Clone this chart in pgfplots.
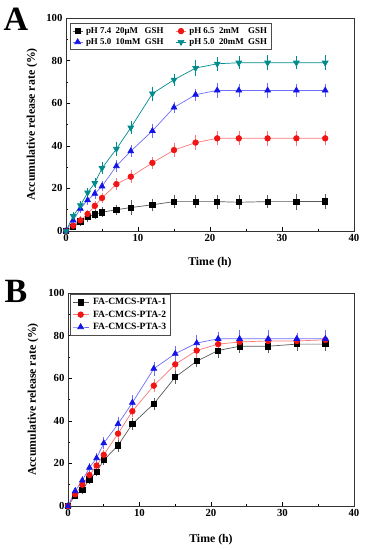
\documentclass[border=0pt]{standalone}
\usepackage{fontspec}
\setmainfont{Liberation Serif}
\usepackage{pgfplots}
\pgfplotsset{compat=1.18}
\definecolor{cteal}{RGB}{0,140,140}
\definecolor{cred}{RGB}{240,20,20}
\definecolor{cblue}{RGB}{20,20,230}
\definecolor{lred}{RGB}{250,120,120}
\definecolor{lblue}{RGB}{110,110,250}
\definecolor{lgray}{RGB}{90,90,90}
\begin{document}
\begin{tikzpicture}
\path[use as bounding box] (0pt,0pt) rectangle (365pt,550pt);
\pgfplotsset{myax/.style={scale only axis, height=213pt,
  xmin=0,xmax=40,ymin=0,ymax=100,
  xtick={0,10,...,40}, ytick={0,20,...,100},
  minor x tick num=1, minor y tick num=1,
  tick pos=left, tick align=inside,
  major tick length=4pt, minor tick length=2pt,
  axis line style={line width=0.7pt, black!80},
  tick style={line width=0.6pt, black},
  ticklabel style={font=\bfseries\fontsize{10.8}{12}\selectfont},
  /pgf/number format/assume math mode=true,
  label style={font=\bfseries\fontsize{11.8}{13}\selectfont},
  xlabel={Time (h)}, ylabel={Accumulative release rate (\%)},
  error bars/y dir=both, error bars/y explicit,
  error bars/error bar style={line width=0.5pt},
  error bars/error mark options={mark size=2pt, line width=0.5pt},
  every axis plot/.append style={line width=0.7pt},
  legend cell align=left,
}}
% ---------- Panel A ----------
\begin{axis}[myax, width=288pt, at={(66pt,319pt)}, anchor=south west,
  xlabel style={at={(axis description cs:0.5,-0.150)}, anchor=center},
  ylabel style={at={(axis description cs:-0.118,0.5)}, anchor=center},
  legend columns=2,
  legend style={at={(axis description cs:0.014,0.976)}, anchor=north west,
    draw=black!70, line width=0.6pt,
    font=\bfseries\fontsize{8.9}{10}\selectfont, inner sep=2pt,
    row sep=-0.5pt,
    /tikz/every odd column/.append style={column sep=1pt},
    /tikz/every even column/.append style={column sep=10pt}},
  legend image code/.code={\draw[mark repeat=2,mark phase=2] plot coordinates {(0pt,0pt) (5pt,0pt) (10pt,0pt)};},
]
\addplot[color=lgray, mark=square*, mark size=2.6pt, mark options={black, fill=black}]
 coordinates {(0,0) +- (0,0) (1,2) +- (0,0.8) (2,4.5) +- (0,1) (3,6.5) +- (0,1.2) (4,7.8) +- (0,1.3) (5,8.8) +- (0,1.5)
 (7,10) +- (0,1.5) (9,11) +- (0,2.5) (12,12.3) +- (0,2) (15,13.8) +- (0,2) (18,13.8) +- (0,2.2) (21,13.8) +- (0,2.3)
 (24,13.5) +- (0,2.3) (28,13.8) +- (0,2) (32,13.8) +- (0,2.8) (36,13.9) +- (0,2.5)};
\addlegendentry{pH 7.4\ \ 20μM\ \ \ GSH}
\addplot[color=lred, mark=*, mark size=2.8pt, mark options={cred, fill=cred}]
 coordinates {(0,0) +- (0,0) (1,2.5) +- (0,0.8) (2,5) +- (0,1) (3,8) +- (0,1) (4,11.8) +- (0,1.2) (5,15.5) +- (0,1.5)
 (7,22) +- (0,1.8) (9,25.5) +- (0,2) (12,32) +- (0,1.8) (15,38) +- (0,2.5) (18,41.5) +- (0,2.5) (21,43.5) +- (0,2.3)
 (24,43.5) +- (0,2.3) (28,43.5) +- (0,2.5) (32,43.5) +- (0,2.5) (36,43.5) +- (0,2.3)};
\addlegendentry{pH 6.5\ \ 2mM\ \ \ \ GSH}
\addplot[color=lblue, mark=triangle*, mark size=3.3pt, mark options={cblue, fill=cblue}]
 coordinates {(0,0) +- (0,0) (1,5) +- (0,1) (2,10.5) +- (0,1) (3,14.5) +- (0,1.2) (4,17.5) +- (0,1.5) (5,21) +- (0,1.5)
 (7,30.5) +- (0,1.8) (9,37.5) +- (0,1.8) (12,47) +- (0,2.2) (15,58) +- (0,1.8) (18,64) +- (0,1.8) (21,66) +- (0,2.5)
 (24,66) +- (0,2) (28,66) +- (0,2.5) (32,66) +- (0,2) (36,66) +- (0,2)};
\addlegendentry{pH 5.0\ \ 10mM\ \ GSH}
\addplot[color=cteal, mark=triangle*, mark size=3.3pt, mark options={cteal, fill=cteal, rotate=180}]
 coordinates {(0,0) +- (0,0) (1,7) +- (0,1) (2,12) +- (0,1.2) (3,18) +- (0,1.2) (4,22.5) +- (0,1.3) (5,29.5) +- (0,2)
 (7,38.5) +- (0,2.5) (9,48.5) +- (0,2) (12,64.5) +- (0,2.3) (15,71) +- (0,1.8) (18,76.5) +- (0,3) (21,78.5) +- (0,2.3)
 (24,79) +- (0,2) (28,79) +- (0,2.5) (32,79) +- (0,2) (36,79) +- (0,2.5)};
\addlegendentry{pH 5.0\ \ 20mM\ \ GSH}
\end{axis}
\node[font=\bfseries\fontsize{34}{36}\selectfont] at (16pt,531pt) {A};
% ---------- Panel B ----------
\begin{axis}[myax, width=286pt, at={(68pt,44pt)}, anchor=south west,
  xlabel style={at={(axis description cs:0.5,-0.160)}, anchor=center},
  ylabel style={at={(axis description cs:-0.122,0.5)}, anchor=center},
  legend style={at={(axis description cs:0.007,0.995)}, anchor=north west,
    draw=black!70, line width=0.6pt,
    font=\bfseries\fontsize{9.6}{11}\selectfont, inner sep=2pt, row sep=0.5pt,
    /tikz/every odd column/.append style={column sep=2pt}},
  legend image code/.code={\draw[mark repeat=2,mark phase=2] plot coordinates {(0pt,0pt) (8pt,0pt) (16pt,0pt)};},
]
\addplot[color=lgray, mark=square*, mark size=2.6pt, mark options={black, fill=black}]
 coordinates {(0,0) +- (0,0) (1,5) +- (0,0.8) (2,7.5) +- (0,1) (3,12.5) +- (0,1) (4,16) +- (0,1.2) (5,21.5) +- (0,1.3)
 (7,28.5) +- (0,2) (9,38.5) +- (0,1.8) (12,48) +- (0,2) (15,60.5) +- (0,2.2) (18,68) +- (0,2) (21,73) +- (0,2.5)
 (24,75) +- (0,2.2) (28,75) +- (0,2) (32,76) +- (0,2.3) (36,76) +- (0,2.3)};
\addlegendentry{FA-CMCS-PTA-1}
\addplot[color=lred, mark=*, mark size=2.8pt, mark options={cred, fill=cred}]
 coordinates {(0,0) +- (0,0) (1,5.5) +- (0,0.8) (2,10) +- (0,1) (3,14.5) +- (0,1) (4,19) +- (0,1.2) (5,24) +- (0,1.5)
 (7,34) +- (0,2) (9,44.5) +- (0,2) (12,56.5) +- (0,2.2) (15,66.5) +- (0,2.2) (18,73) +- (0,2.5) (21,76) +- (0,2.2)
 (24,77) +- (0,2.5) (28,77.5) +- (0,2.5) (32,77.5) +- (0,2) (36,78) +- (0,2.5)};
\addlegendentry{FA-CMCS-PTA-2}
\addplot[color=lblue, mark=triangle*, mark size=3.3pt, mark options={cblue, fill=cblue}]
 coordinates {(0,0) +- (0,0) (1,7) +- (0,1) (2,12) +- (0,1.2) (3,18) +- (0,1.2) (4,22.5) +- (0,1.3) (5,29.5) +- (0,2)
 (7,38.5) +- (0,2.5) (9,48.5) +- (0,2.5) (12,64.5) +- (0,2.3) (15,71.5) +- (0,2.5) (18,76.5) +- (0,3) (21,78.5) +- (0,2.3)
 (24,78.5) +- (0,3) (28,78.5) +- (0,3) (32,78.5) +- (0,2) (36,78.5) +- (0,3)};
\addlegendentry{FA-CMCS-PTA-3}
\end{axis}
\node[font=\bfseries\fontsize{34}{36}\selectfont] at (16pt,259pt) {B};
\end{tikzpicture}
\end{document}
